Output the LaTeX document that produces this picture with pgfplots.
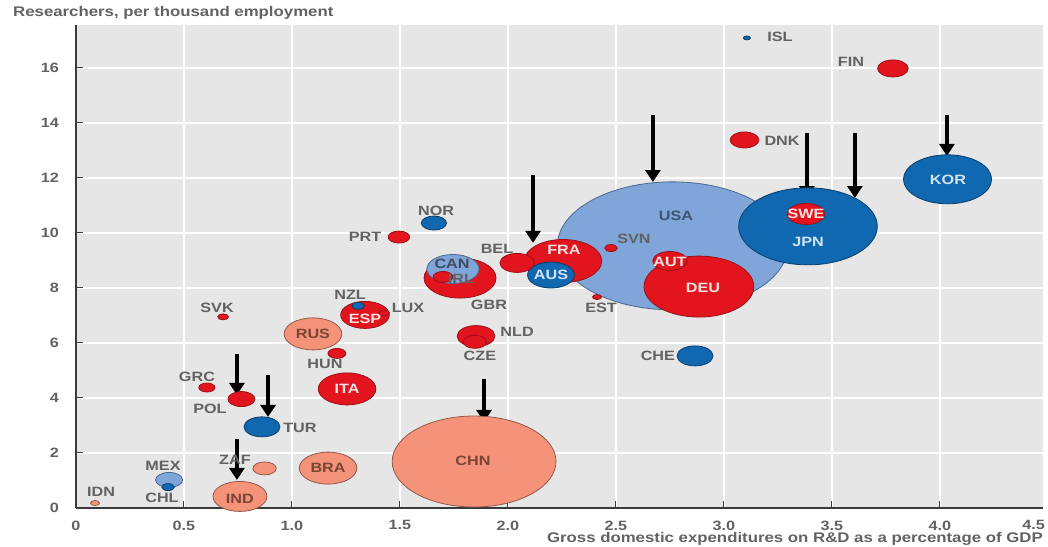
\documentclass[border=0pt]{standalone}
\usepackage{fontspec}
\setmainfont{Liberation Sans}[FakeStretch=1.2]
\usepackage{pgfplots}
\pgfplotsset{compat=1.18}
\usepackage{pgfplotstable}
\usetikzlibrary{arrows.meta}

\definecolor{bggray}{HTML}{E6E6E6}
\definecolor{axgray}{HTML}{3A3A3A}
\definecolor{tgray}{HTML}{626262}
\definecolor{cred}{HTML}{E2151E}
\definecolor{credE}{HTML}{9A1017}
\definecolor{csal}{HTML}{F4937A}
\definecolor{csalE}{HTML}{94584A}
\definecolor{cdb}{HTML}{0F68B0}
\definecolor{cdbE}{HTML}{0B3E6A}
\definecolor{clb}{HTML}{7FA5D9}
\definecolor{clbE}{HTML}{4D6890}
\definecolor{twr}{HTML}{F8E2E2}
\definecolor{twb}{HTML}{D2E4F5}
\definecolor{tusa}{HTML}{3E5573}
\definecolor{tcan}{HTML}{3F4B5E}
\definecolor{tsal}{HTML}{7A4535}

\newcommand\tfont{\fontsize{13.5}{16}\selectfont\bfseries}
\newcommand\afont{\fontsize{14}{17}\selectfont\bfseries}

% c: 0 red, 1 salmon, 2 dark blue, 3 light blue
\pgfplotstableread{
x y r c
2.762 9.53 64 3
1.843 1.69 45.5 1
3.389 10.24 38.5 2
2.884 8.05 30.5 0
4.035 11.95 24.5 2
2.255 8.98 21.5 0
1.778 8.36 20 0
1.167 1.45 16 1
1.097 6.33 16 1
1.255 4.33 16 0
0.759 0.42 15 1
1.745 8.69 14.5 3
1.338 7.02 13.5 0
2.199 8.47 13 2
1.852 6.25 10.5 0
3.380 10.69 10.5 0
0.861 2.95 10 2
2.866 5.53 10 2
2.750 8.98 9.5 0
2.042 8.91 9.5 0
3.782 15.98 8.5 0
3.095 13.38 8 0
0.766 3.96 7.5 0
0.431 1.02 7.5 3
1.657 10.36 7 2
0.873 1.44 6.5 1
1.847 6.04 6.5 0
1.495 9.85 6 0
1.699 8.40 5.5 0
1.208 5.62 5 0
0.606 4.38 4.5 0
0.426 0.76 3.5 2
1.306 7.35 3.5 2
2.477 9.45 3.5 0
0.681 6.95 3 0
1.426 7.09 3 0
0.088 0.18 2.5 1
2.412 7.67 2.5 0
3.106 17.09 2 2
}\bubbles

% t: 0 gray, 1 on red, 2 on dark blue, 3 USA, 4 CAN, 5 on salmon
\pgfplotstableread{
x y lab t
3.259 17.13 ISL 0
3.588 16.22 FIN 0
3.269 13.35 DNK 0
4.037 11.93 KOR 2
2.778 10.62 USA 3
3.380 10.69 SWE 1
3.389 9.67 JPN 2
2.583 9.78 SVN 0
2.750 8.95 AUT 1
2.903 8.00 DEU 1
2.431 7.27 EST 0
2.259 9.38 FRA 1
2.199 8.47 AUS 2
1.949 9.42 BEL 0
1.741 8.86 CAN 4
1.782 8.34 IRL 0
1.912 7.38 GBR 0
1.667 10.80 NOR 0
1.338 9.85 PRT 0
1.269 7.75 NZL 0
1.537 7.27 LUX 0
1.338 6.87 ESP 1
1.097 6.33 RUS 5
1.153 5.24 HUN 0
2.042 6.40 NLD 0
1.870 5.53 CZE 0
2.694 5.53 CHE 0
1.255 4.33 ITA 1
0.653 7.27 SVK 0
0.560 4.76 GRC 0
0.620 3.60 POL 0
1.037 2.91 TUR 0
0.736 1.75 ZAF 0
0.403 1.53 MEX 0
0.398 0.36 CHL 0
0.116 0.58 IDN 0
0.759 0.33 IND 5
1.167 1.45 BRA 5
1.838 1.71 CHN 5
}\labels

\begin{document}
\begin{tikzpicture}
\begin{axis}[
  at={(0,0)}, anchor=south west,
  scale only axis, width=967pt, height=483pt,
  xmin=0, xmax=4.477, ymin=0, ymax=17.56,
  clip=false,
  axis x line*=bottom, axis y line*=left,
  axis line style={draw=axgray, line width=2pt},
  axis background/.style={fill=bggray},
  grid=major, major grid style={draw=white, line width=1.8pt},
  xtick={0,0.5,1,1.5,2,2.5,3,3.5,4},
  xticklabels={0,0.5,1.0,1.5,2.0,2.5,3.0,3.5,4.0},
  ytick={0,2,4,6,8,10,12,14,16},
  yticklabels={0,2,4,6,8,10,12,14,16},
  tick align=inside, major tick length=7pt,
  tick style={draw=axgray, line width=1pt},
  ticklabel style={font=\tfont, text=tgray},
  xticklabel style={inner sep=0pt, yshift=-12.5pt},
  yticklabel style={xshift=-13.5pt},
]
\addplot[scatter, only marks, mark=*, line width=0.8pt,
  point meta=y,
  mark options={xscale=1.8},
  visualization depends on={\thisrow{r} \as \brad},
  visualization depends on={\thisrow{c} \as \bci},
  scatter/@pre marker code/.code={%
    \pgfmathtruncatemacro\ci{\bci}%
    \ifcase\ci\relax
      \def\fc{cred}\def\ec{credE}%
    \or\def\fc{csal}\def\ec{csalE}%
    \or\def\fc{cdb}\def\ec{cdbE}%
    \else\def\fc{clb}\def\ec{clbE}%
    \fi
    \scope[mark size=\brad, fill=\fc, draw=\ec]},
  scatter/@post marker code/.code={\endscope},
] table[x=x,y=y] {\bubbles};

\addplot[draw=none,
  point meta=explicit symbolic,
  visualization depends on={\thisrow{t} \as \bti},
  nodes near coords={\pgfmathtruncatemacro\ti{\bti}%
    \ifcase\ti\relax\color{tgray}\or\color{twr}\or\color{twb}\or\color{tusa}\or\color{tcan}\else\color{tsal}\fi
    \pgfplotspointmeta},
  nodes near coords align=center,
  every node near coord/.append style={font=\tfont, inner sep=0pt},
] table[x=x,y=y,meta=lab] {\labels};

\draw[line width=4.5pt, -{Triangle[width=15pt,length=12pt]}] (axis cs:2.116,12.11) -- (axis cs:2.116,9.64);
\draw[line width=4.5pt, -{Triangle[width=15pt,length=12pt]}] (axis cs:2.671,14.29) -- (axis cs:2.671,11.85);
\draw[line width=4.5pt, -{Triangle[width=15pt,length=12pt]}] (axis cs:3.384,13.64) -- (axis cs:3.384,11.27);
\draw[line width=4.5pt, -{Triangle[width=15pt,length=12pt]}] (axis cs:3.606,13.64) -- (axis cs:3.606,11.27);
\draw[line width=4.5pt, -{Triangle[width=15pt,length=12pt]}] (axis cs:4.032,14.29) -- (axis cs:4.032,12.80);
\draw[line width=4.5pt, -{Triangle[width=15pt,length=12pt]}] (axis cs:1.889,4.69) -- (axis cs:1.889,3.13);
\draw[line width=4.5pt, -{Triangle[width=15pt,length=12pt]}] (axis cs:0.745,5.60) -- (axis cs:0.745,4.11);
\draw[line width=4.5pt, -{Triangle[width=15pt,length=12pt]}] (axis cs:0.889,4.84) -- (axis cs:0.889,3.31);
\draw[line width=4.5pt, -{Triangle[width=15pt,length=12pt]}] (axis cs:0.745,2.51) -- (axis cs:0.745,1.02);

\node[font=\tfont, text=tgray, anchor=north east, inner sep=0pt] at (rel axis cs:1,0) [xshift=2pt, yshift=-12.5pt] {4.5};
\node[font=\afont, text=tgray, anchor=base west, inner sep=0pt] at (rel axis cs:0,1) [xshift=-63pt, yshift=8pt] {Researchers, per thousand employment};
\node[font=\afont, text=tgray, anchor=base east, inner sep=0pt] at (rel axis cs:1,0) [yshift=-34pt] {Gross domestic expenditures on R\&D as a percentage of GDP};
\end{axis}
\pgfresetboundingbox
\useasboundingbox (-76pt,-38pt) rectangle (972pt,508pt);
\end{tikzpicture}
\end{document}
